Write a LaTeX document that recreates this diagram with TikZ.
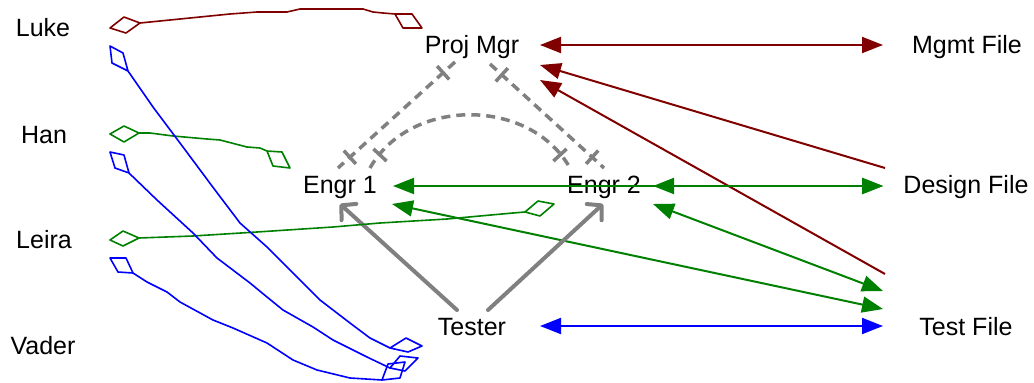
\documentclass[tikz,border=0pt]{standalone}
\usepackage{fontspec}
\setmainfont{Liberation Sans}
\usetikzlibrary{arrows.meta,decorations.markings,calc}
\definecolor{dred}{RGB}{128,0,0}
\definecolor{dgreen}{RGB}{0,128,0}
\definecolor{pblue}{RGB}{0,0,255}
\definecolor{mgray}{RGB}{128,128,128}
\tikzset{
  lbl/.style={anchor=base,inner sep=0pt,font=\fontsize{25}{30}\selectfont},
  conn/.style={line width=2pt},
  tri/.style={-{Triangle[length=21pt,width=16pt]}},
  tritri/.style={{Triangle[length=21pt,width=16pt]}-{Triangle[length=21pt,width=16pt]}},
  grayarr/.style={draw=mgray,line width=4pt,line cap=round,-{Straight Barb[length=10pt,width=22pt,line cap=round,line join=round]}},
  dashg/.style={draw=mgray,line width=3.5pt,dash pattern=on 9pt off 6pt},
  tick/.style={draw=mgray,line width=3.5pt},
  hand/.style={line width=1.6pt,line join=round}
}
\begin{document}
\begin{tikzpicture}[x=1pt,y=-1pt]
\useasboundingbox (0,0) rectangle (1034,383);
% labels
\node[lbl] (luke) at (43,36) {Luke};
\node[lbl] (han) at (44,143) {Han};
\node[lbl] (leira) at (44,248) {Leira};
\node[lbl] (vader) at (43,354) {Vader};
\node[lbl] (pm) at (472,53) {Proj Mgr};
\node[lbl] (mgmt) at (967,53) {Mgmt File};
\node[lbl] (e1) at (340,193) {Engr 1};
\node[lbl] (e2) at (604,193) {Engr 2};
\node[lbl] (design) at (966,193) {Design File};
\node[lbl] (tester) at (472,335) {Tester};
\node[lbl] (test) at (966,335) {Test File};
% endpoint coordinates
\coordinate (pmR) at (540,45);
\coordinate (pmR2) at (540,65);
\coordinate (pmR3) at (540,80);
\coordinate (mgmtL) at (883,45);
\coordinate (designL) at (883,186);
\coordinate (designL2) at (885,168);
\coordinate (designL3) at (885,274);
\coordinate (e1R) at (393,186);
\coordinate (e1R2) at (392,204);
\coordinate (e2R) at (653,186);
\coordinate (e2R2) at (653,204);
\coordinate (testL) at (883,326);
\coordinate (testL2) at (883,309);
\coordinate (testL3) at (883,291);
\coordinate (testerR) at (540,326);
\coordinate (testerT1) at (457,310);
\coordinate (testerT2) at (488,310);
\coordinate (e1B) at (340,204);
\coordinate (e2B) at (603,204);
\coordinate (pmB1) at (455,62);
\coordinate (pmB2) at (490,64);
\coordinate (e1T1) at (338,168);
\coordinate (e1T2) at (370,168);
\coordinate (e2T1) at (570,168);
\coordinate (e2T2) at (604,168);
% dark red
\draw[conn,dred,tritri] (pmR) -- (mgmtL);
\draw[conn,dred,tri] (designL2) -- (pmR2);
\draw[conn,dred,tri] (designL3) -- (pmR3);
% green
\draw[conn,dgreen,tritri] (e1R) -- (designL);
\draw[conn,dgreen,tritri] (e2R) -- (designL);
\draw[conn,dgreen,tritri] (e1R2) -- (testL2);
\draw[conn,dgreen,tritri] (e2R2) -- (testL3);
% blue
\draw[conn,pblue,tritri] (testerR) -- (testL);
% gray arrows
\draw[grayarr] (testerT1) -- (e1B);
\draw[grayarr] (testerT2) -- (e2B);
% dashed ticked
\draw[dashg] (pmB1) -- (e1T1);
\draw[dashg] (pmB2) -- (e2T2);
\draw[dashg] (e1T2) .. controls (410,97) and (530,97) .. (e2T1);
% ticks (perpendicular bars near each end)
\draw[tick] ($(pmB1)!16pt!(e1T1)!9pt!90:(e1T1)$) -- ($(pmB1)!16pt!(e1T1)!9pt!-90:(e1T1)$);
\draw[tick] ($(e1T1)!16pt!(pmB1)!9pt!90:(pmB1)$) -- ($(e1T1)!16pt!(pmB1)!9pt!-90:(pmB1)$);
\draw[tick] ($(pmB2)!16pt!(e2T2)!9pt!90:(e2T2)$) -- ($(pmB2)!16pt!(e2T2)!9pt!-90:(e2T2)$);
\draw[tick] ($(e2T2)!16pt!(pmB2)!9pt!90:(pmB2)$) -- ($(e2T2)!16pt!(pmB2)!9pt!-90:(pmB2)$);
\coordinate (c1) at (380,155);
\coordinate (c1d) at (392,142);
\coordinate (c2) at (560,155);
\coordinate (c2d) at (548,142);
\draw[tick] ($(c1)!9pt!90:(c1d)$) -- ($(c1)!9pt!-90:(c1d)$);
\draw[tick] ($(c2)!9pt!90:(c2d)$) -- ($(c2)!9pt!-90:(c2d)$);
% hand drawn associations
\draw[hand,dred] (110,28) -- (124,17) -- (140,23) -- (126,33) -- cycle;
\draw[hand,dred] (140,23) -- (170,20) -- (200,17) -- (230,14) -- (257,12) -- (287,12) -- (300,9) -- (363,9) -- (373,12) -- (383,13) -- (395,14);
\draw[hand,dred] (395,14) -- (412,14) -- (422,28) -- (403,28) -- cycle;
\draw[hand,dgreen] (110,134) -- (124,126) -- (139,133) -- (124,142) -- cycle;
\draw[hand,dgreen] (139,133) -- (150,133) -- (173,136) -- (207,139) -- (220,140) -- (247,147) -- (260,148) -- (267,151);
\draw[hand,dgreen] (267,151) -- (282,152) -- (290,168) -- (273,166) -- cycle;
\draw[hand,dgreen] (110,240) -- (123,231) -- (139,238) -- (123,246) -- cycle;
\draw[hand,dgreen] (139,238) -- (193,236) -- (257,232) -- (333,227) -- (380,223) -- (447,219) -- (480,216) -- (513,213) -- (525,212);
\draw[hand,dgreen] (525,212) -- (538,201) -- (554,204) -- (540,216) -- cycle;
\draw[hand,pblue] (110,46) -- (123,53) -- (128,71) -- (112,63) -- cycle;
\draw[hand,pblue] (128,71) -- (153,107) -- (180,143) -- (215,190) -- (240,223) -- (267,247) -- (283,263) -- (320,300) -- (350,323) -- (370,338) -- (390,348);
\draw[hand,pblue] (390,348) -- (406,338) -- (422,346) -- (408,352) -- cycle;
\draw[hand,pblue] (110,152) -- (124,155) -- (129,173) -- (115,168) -- cycle;
\draw[hand,pblue] (129,173) -- (157,200) -- (193,233) -- (217,258) -- (250,283) -- (267,297) -- (283,310) -- (313,327) -- (333,340) -- (367,357) -- (390,368);
\draw[hand,pblue] (390,368) -- (400,356) -- (418,358) -- (405,371) -- cycle;
\draw[hand,pblue] (110,258) -- (126,258) -- (133,273) -- (118,272) -- cycle;
\draw[hand,pblue] (133,273) -- (147,282) -- (167,292) -- (180,302) -- (213,320) -- (233,328) -- (267,343) -- (293,360) -- (317,370) -- (350,378) -- (382,380);
\draw[hand,pblue] (382,380) -- (388,364) -- (405,362) -- (400,378) -- cycle;
\end{tikzpicture}
\end{document}
